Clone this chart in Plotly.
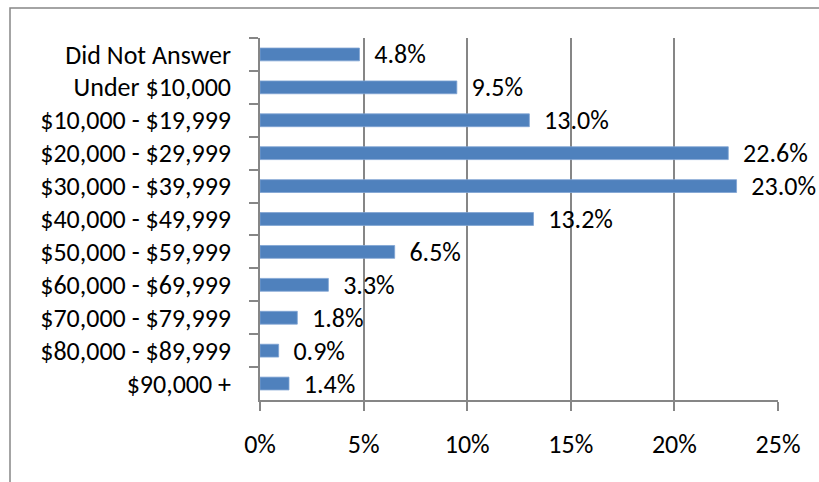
import plotly.graph_objects as go

categories = [
    "Did Not Answer",
    "Under $10,000",
    "$10,000 - $19,999",
    "$20,000 - $29,999",
    "$30,000 - $39,999",
    "$40,000 - $49,999",
    "$50,000 - $59,999",
    "$60,000 - $69,999",
    "$70,000 - $79,999",
    "$80,000 - $89,999",
    "$90,000 +",
]
shares = [0.048, 0.095, 0.130, 0.226, 0.230, 0.132, 0.065, 0.033, 0.018, 0.009, 0.014]
x_ticks = [0, 0.05, 0.10, 0.15, 0.20, 0.25]

font_family = "Calibri, Carlito, Lato, sans-serif"
grey = "#868686"

fig_w, fig_h = 819, 482
m_l, m_r, m_t, m_b = 260, 41, 38, 82
plot_w = fig_w - m_l - m_r
plot_h = fig_h - m_t - m_b

fig = go.Figure(
    go.Bar(
        x=shares,
        y=categories,
        orientation="h",
        width=0.39,
        marker={"color": "#4F81BD", "line": {"width": 0.8, "color": "#7FA3D3"}},
        texttemplate="\u00a0\u00a0%{x:.1%}",
        textposition="outside",
        textfont={"color": "black", "size": 26, "family": font_family},
        constraintext="none",
        cliponaxis=False,
        hoverinfo="skip",
    )
)

fig.update_layout(
    width=fig_w,
    height=fig_h,
    margin={"l": m_l, "r": m_r, "t": m_t, "b": m_b},
    paper_bgcolor="white",
    plot_bgcolor="white",
    showlegend=False,
    font={"family": font_family, "size": 26, "color": "black"},
    shapes=[
        {
            "type": "rect",
            "xref": "paper",
            "yref": "paper",
            "x0": (10 - m_l) / plot_w,
            "x1": 1.3,
            "y0": -0.5,
            "y1": (plot_h + m_t - 8) / plot_h,
            "line": {"color": grey, "width": 1.5},
            "layer": "below",
        }
    ],
)
fig.update_xaxes(
    range=[0, 0.25],
    tickvals=x_ticks,
    tickformat=".0%",
    showgrid=True,
    gridcolor=grey,
    gridwidth=1.5,
    showline=True,
    linecolor=grey,
    linewidth=1.5,
    ticks="outside",
    ticklen=9,
    tickwidth=1.5,
    tickcolor=grey,
    ticklabelstandoff=11,
    zeroline=False,
    fixedrange=True,
)
fig.update_yaxes(
    autorange="reversed",
    type="category",
    tickson="boundaries",
    showline=True,
    linecolor=grey,
    linewidth=1.5,
    ticks="outside",
    ticklen=9,
    tickwidth=1.5,
    tickcolor=grey,
    ticklabelstandoff=22,
    showgrid=False,
    fixedrange=True,
)

# drop the browser's default 8px body margin so the figure fills the window
fig.write_html(
    "out.html",
    config={"displayModeBar": False},
    post_script="document.body.style.margin = '0';",
)
